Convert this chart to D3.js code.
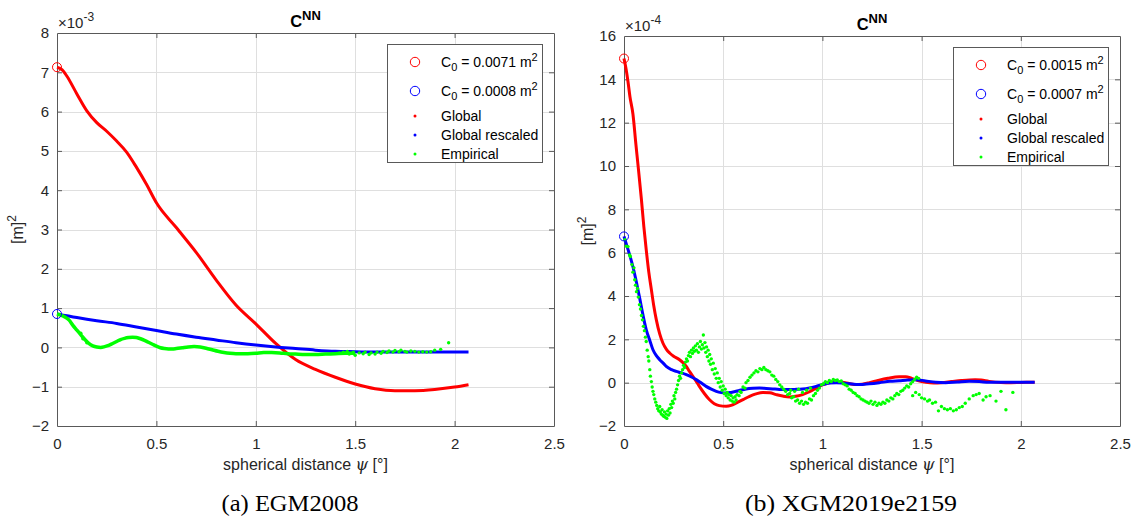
<!DOCTYPE html>
<html>
<head>
<meta charset="utf-8">
<script src="https://cdn.jsdelivr.net/npm/d3@7"></script>
<style>
body{margin:0;background:#fff;}
svg{font-family:Arial,"Liberation Sans",Helvetica,sans-serif;}
</style>
</head>
<body>
<svg id="chart" width="1137" height="518"></svg>
<script>
// ---- data ----
var xTicks = [0, 0.5, 1, 1.5, 2, 2.5];
var yTicksA = [-2, -1, 0, 1, 2, 3, 4, 5, 6, 7, 8];
var yTicksB = [-2, 0, 2, 4, 6, 8, 10, 12, 14, 16];
var exponents = ["-3", "-4"];
var captions = ["(a) EGM2008", "(b) XGM2019e2159"];
var seriesNames = ["Global", "Global rescaled", "Empirical"];
var c0LabelsA = ["0.0071", "0.0008"];
var c0LabelsB = ["0.0015", "0.0007"];
var c0A = [7.13, 0.85];
var c0B = [14.96, 6.75];

// EGM2008, values x 1e-3
var globalA = [[0,7.13],[0.025,7.07],[0.05,6.9],[0.1,6.45],[0.15,6.02],[0.2,5.72],[0.25,5.5],[0.3,5.25],
    [0.35,4.97],[0.4,4.58],[0.45,4.15],[0.5,3.68],[0.6,3.05],[0.7,2.42],[0.8,1.72],[0.9,1.08],[1.0,0.6],
    [1.1,0.1],[1.2,-0.31],[1.3,-0.56],[1.4,-0.76],[1.5,-0.93],[1.6,-1.05],[1.7,-1.1],[1.8,-1.1],
    [1.9,-1.07],[2.0,-1.01],[2.07,-0.95]];
var rescaledA = [[0,0.85],[0.1,0.76],[0.2,0.68],[0.3,0.61],[0.4,0.52],[0.5,0.43],[0.6,0.34],[0.7,0.26],
    [0.8,0.19],[0.9,0.12],[1.0,0.06],[1.1,0.01],[1.2,-0.03],[1.3,-0.07],[1.4,-0.1],[1.5,-0.11],
    [1.6,-0.12],[1.8,-0.12],[2.07,-0.12]];
var empiricalTrackA = [[0,0.85],[0.03,0.8],[0.06,0.7],[0.08,0.56],[0.1,0.44],[0.12,0.32],[0.14,0.2],
    [0.16,0.1],[0.18,0.04],[0.2,0.01],[0.22,0.0],[0.24,0.02],[0.26,0.05],[0.28,0.1],[0.3,0.15],[0.32,0.2],
    [0.34,0.23],[0.36,0.25],[0.38,0.26],[0.4,0.25],[0.42,0.22],[0.44,0.18],[0.46,0.13],[0.48,0.08],
    [0.5,0.03],[0.52,-0.01],[0.54,-0.03],[0.56,-0.04],[0.58,-0.04],[0.6,-0.03],[0.63,-0.01],[0.66,0.01],
    [0.69,0.02],[0.72,0.01],[0.75,-0.02],[0.78,-0.06],[0.81,-0.1],[0.84,-0.13],[0.87,-0.15],[0.9,-0.16],
    [0.93,-0.16],[0.96,-0.16],[1.0,-0.15],[1.04,-0.13],[1.08,-0.13],[1.12,-0.14],[1.16,-0.16],[1.2,-0.17],
    [1.25,-0.18],[1.3,-0.18],[1.35,-0.17],[1.4,-0.16],[1.45,-0.15],[1.5,-0.15]];
var empiricalDotsA = [[0.12,0.36],[0.13,0.22],[0.15,0.12],[1.42,-0.15],[1.44,-0.12],[1.46,-0.1],[1.47,-0.17],
    [1.49,-0.12],[1.5,-0.2],[1.52,-0.14],[1.54,-0.16],[1.55,-0.12],[1.57,-0.18],[1.58,-0.14],[1.6,-0.17],
    [1.61,-0.12],[1.63,-0.15],[1.64,-0.1],[1.66,-0.13],[1.67,-0.09],[1.69,-0.12],[1.7,-0.08],[1.72,-0.11],
    [1.73,-0.07],[1.75,-0.1],[1.76,-0.12],[1.78,-0.09],[1.8,-0.1],[1.82,-0.12],[1.84,-0.11],[1.86,-0.12],
    [1.88,-0.11],[1.9,-0.07],[1.93,-0.05],[1.97,0.12]];

// XGM2019e2159, values x 1e-4
var globalB = [[0,14.96],[0.01,14.5],[0.02,13.9],[0.03,13.2],[0.045,12.4],[0.06,11.0],[0.07,10.1],
    [0.088,8.43],[0.1,7.2],[0.112,6.14],[0.125,5.1],[0.138,4.29],[0.15,3.55],[0.163,2.9],[0.18,2.25],
    [0.196,1.83],[0.213,1.55],[0.23,1.37],[0.25,1.22],[0.28,1.06],[0.3,0.9],[0.314,0.75],[0.33,0.52],
    [0.347,0.29],[0.365,0.05],[0.38,-0.17],[0.405,-0.5],[0.43,-0.78],[0.455,-0.97],[0.48,-1.06],
    [0.515,-1.09],[0.54,-1.05],[0.565,-0.94],[0.6,-0.78],[0.633,-0.63],[0.665,-0.52],[0.7,-0.45],
    [0.735,-0.47],[0.767,-0.55],[0.8,-0.62],[0.834,-0.66],[0.865,-0.63],[0.9,-0.55],[0.935,-0.42],
    [0.968,-0.25],[1.0,-0.1],[1.035,0],[1.07,0.04],[1.1,0.02],[1.135,-0.04],[1.17,-0.09],[1.2,-0.07],
    [1.237,0],[1.28,0.1],[1.33,0.2],[1.387,0.27],[1.42,0.27],[1.45,0.2],[1.49,0.08],[1.522,0.02],
    [1.56,-0.01],[1.6,0],[1.65,0.05],[1.7,0.1],[1.77,0.14],[1.8,0.12],[1.84,0.06],[1.9,0.01],[1.95,0],
    [2.0,0.01],[2.07,0.02]];
var rescaledB = [[0,6.75],[0.015,6.3],[0.03,5.85],[0.045,5.35],[0.06,4.75],[0.079,3.9],[0.095,3.15],
    [0.112,2.45],[0.13,1.95],[0.146,1.52],[0.163,1.25],[0.18,1.06],[0.2,0.88],[0.213,0.75],[0.24,0.6],
    [0.263,0.52],[0.29,0.45],[0.314,0.37],[0.34,0.26],[0.364,0.14],[0.39,-0.02],[0.414,-0.17],[0.44,-0.3],
    [0.465,-0.4],[0.49,-0.46],[0.515,-0.48],[0.54,-0.45],[0.565,-0.4],[0.59,-0.34],[0.616,-0.29],
    [0.65,-0.26],[0.683,-0.25],[0.717,-0.27],[0.75,-0.29],[0.783,-0.31],[0.817,-0.32],[0.86,-0.31],
    [0.9,-0.29],[0.935,-0.24],[0.968,-0.17],[1.0,-0.09],[1.035,-0.02],[1.07,0],[1.1,-0.01],[1.136,-0.05],
    [1.186,-0.09],[1.237,-0.05],[1.287,0],[1.34,0.06],[1.387,0.09],[1.43,0.12],[1.47,0.14],[1.52,0.08],
    [1.572,0.02],[1.62,0],[1.68,0.03],[1.74,0.06],[1.79,0.05],[1.84,0.02],[1.95,0.02],[2.07,0.02]];
var empiricalB = [[0.005,6.6],[0.012,6.3],[0.02,6.28],[0.028,5.9],[0.032,5.82],[0.04,5.45],[0.045,5.1],
    [0.05,5.3],[0.054,4.75],[0.058,4.5],[0.063,4.2],[0.068,4.35],[0.072,3.95],[0.078,3.6],[0.083,3.4],
    [0.088,3.1],[0.093,2.9],[0.098,2.6],[0.103,2.4],[0.108,2.1],[0.112,1.9],[0.117,1.5],[0.122,1.2],
    [0.125,1.0],[0.13,0.6],[0.133,0.3],[0.138,0.05],[0.142,-0.2],[0.146,-0.4],[0.15,-0.55],[0.155,-0.75],
    [0.16,-0.9],[0.165,-1.05],[0.17,-1.2],[0.175,-1.3],[0.18,-1.1],[0.183,-1.35],[0.188,-1.45],[0.192,-1.25],
    [0.196,-1.5],[0.2,-1.55],[0.204,-1.35],[0.208,-1.6],[0.212,-1.45],[0.216,-1.65],[0.22,-1.3],[0.224,-1.5],
    [0.228,-1.2],[0.232,-1.4],[0.236,-1.0],[0.24,-1.15],[0.244,-0.85],[0.248,-0.95],[0.252,-0.6],
    [0.256,-0.75],[0.26,-0.45],[0.265,-0.3],[0.27,-0.1],[0.275,0.1],[0.28,0.3],[0.285,0.2],[0.29,0.45],
    [0.295,0.6],[0.3,0.8],[0.305,0.7],[0.31,0.95],[0.315,1.1],[0.32,1.0],[0.325,1.25],[0.33,1.4],
    [0.335,1.2],[0.34,1.5],[0.345,1.35],[0.35,1.6],[0.355,1.45],[0.36,1.7],[0.365,1.5],[0.37,1.8],
    [0.375,1.4],[0.38,1.65],[0.385,1.9],[0.39,1.55],[0.395,1.75],[0.4,2.2],[0.403,1.6],[0.408,1.85],
    [0.412,1.4],[0.416,1.65],[0.42,1.2],[0.424,1.5],[0.428,1.0],[0.432,1.3],[0.436,0.85],[0.44,1.1],
    [0.445,0.6],[0.45,0.9],[0.455,0.4],[0.46,0.65],[0.465,0.2],[0.47,0.45],[0.475,0.0],[0.48,0.2],
    [0.485,-0.2],[0.49,0.05],[0.495,-0.35],[0.5,-0.15],[0.505,-0.5],[0.51,-0.3],[0.515,-0.6],[0.52,-0.45],
    [0.525,-0.7],[0.53,-0.55],[0.535,-0.8],[0.54,-0.6],[0.545,-0.85],[0.55,-0.7],[0.555,-0.9],[0.56,-0.65],
    [0.565,-0.8],[0.57,-0.55],[0.58,-0.6],[0.585,-0.4],[0.59,-0.45],[0.6,-0.2],[0.61,-0.25],[0.615,0.0],
    [0.625,0.1],[0.635,0.25],[0.645,0.35],[0.655,0.45],[0.665,0.55],[0.675,0.5],[0.685,0.65],[0.695,0.6],
    [0.705,0.7],[0.715,0.6],[0.725,0.55],[0.735,0.5],[0.745,0.35],[0.755,0.3],[0.765,0.15],[0.775,0.05],
    [0.785,-0.1],[0.795,-0.2],[0.805,-0.3],[0.815,-0.4],[0.825,-0.55],[0.835,-0.5],[0.845,-0.7],
    [0.855,-0.65],[0.865,-0.85],[0.875,-0.8],[0.885,-0.95],[0.895,-0.85],[0.905,-1.0],[0.915,-0.9],
    [0.925,-0.95],[0.935,-0.75],[0.945,-0.8],[0.955,-0.6],[0.965,-0.5],[0.975,-0.35],[0.985,-0.25],
    [0.995,-0.1],[1.005,-0.05],[1.015,0.05],[1.025,0.0],[1.035,0.1],[1.045,0.05],[1.055,0.15],[1.065,0.1],
    [1.075,0.12],[1.085,0.05],[1.095,0.08],[1.105,-0.05],[1.115,-0.1],[1.125,-0.15],[1.135,-0.3],
    [1.145,-0.35],[1.155,-0.45],[1.165,-0.5],[1.175,-0.6],[1.185,-0.65],[1.195,-0.75],[1.205,-0.8],
    [1.215,-0.85],[1.225,-0.9],[1.235,-0.95],[1.245,-0.85],[1.255,-1.0],[1.265,-0.9],[1.275,-1.05],
    [1.285,-0.95],[1.295,-1.0],[1.305,-0.9],[1.315,-0.95],[1.325,-0.8],[1.335,-0.85],[1.345,-0.7],
    [1.355,-0.75],[1.365,-0.6],[1.375,-0.5],[1.385,-0.55],[1.395,-0.4],[1.405,-0.35],[1.415,-0.25],
    [1.425,-0.15],[1.435,-0.2],[1.445,-0.05],[1.455,0.05],[1.465,0.15],[1.475,0.25],[1.485,0.2],
    [0.84,-0.35],[0.86,-0.4],[0.88,-0.3],[0.9,-0.45],[0.92,-0.35],[0.94,-0.25],
    [1.455,-0.6],[1.47,-0.45],[1.488,-0.55],[1.5,-0.7],[1.515,-0.75],[1.53,-0.85],[1.54,-0.8],[1.555,-0.95],
    [1.57,-0.9],[1.585,-1.3],[1.6,-1.1],[1.615,-1.2],[1.63,-1.25],[1.645,-1.2],[1.66,-1.3],[1.675,-1.25],
    [1.69,-1.15],[1.705,-1.1],[1.72,-0.95],[1.74,-0.75],[1.76,-0.6],[1.775,-0.55],[1.79,-0.5],[1.81,-0.8],
    [1.825,-0.65],[1.845,-0.6],[1.875,-0.85],[1.9,-0.4],[1.925,-1.25],[1.96,-0.45]];

var colors = ["#ff0000", "#0000ff", "#00ff00"];
var axisColor = "#595959",
    textColor = "#262626",
    gridColor = "#dfdfdf";

var svg = d3.select("#chart");

function drawPanel(p){
    var x = d3.scaleLinear().domain([0, 2.5]).range([p.left, p.right]);
    var y = d3.scaleLinear().domain([p.yTicks[0], p.yTicks[p.yTicks.length-1]]).range([p.bottom, p.top]);
    var g = svg.append("g");

    // grid
    g.selectAll(".gx").data(xTicks.slice(1, -1)).enter()
        .append("line")
        .attr("x1", function(d){return Math.round(x(d)) + 0.5})
        .attr("x2", function(d){return Math.round(x(d)) + 0.5})
        .attr("y1", p.top).attr("y2", p.bottom)
        .style("stroke", gridColor);
    g.selectAll(".gy").data(p.yTicks.slice(1, -1)).enter()
        .append("line")
        .attr("y1", function(d){return Math.round(y(d)) + 0.5})
        .attr("y2", function(d){return Math.round(y(d)) + 0.5})
        .attr("x1", p.left).attr("x2", p.right)
        .style("stroke", gridColor);

    // axes, ticks inward like matlab
    var axB = g.append("g").attr("transform", "translate(0," + p.bottom + ")")
        .call(d3.axisBottom(x).tickValues(xTicks).tickSizeInner(-5).tickSizeOuter(0).tickPadding(12)
            .tickFormat(function(d){return d3.format("")(d)}));
    var axT = g.append("g").attr("transform", "translate(0," + p.top + ")")
        .call(d3.axisTop(x).tickValues(xTicks).tickSizeInner(-5).tickSizeOuter(0).tickFormat(""));
    var axL = g.append("g").attr("transform", "translate(" + p.left + ",0)")
        .call(d3.axisLeft(y).tickValues(p.yTicks).tickSizeInner(-5).tickSizeOuter(0).tickPadding(8));
    var axR = g.append("g").attr("transform", "translate(" + p.right + ",0)")
        .call(d3.axisRight(y).tickValues(p.yTicks).tickSizeInner(-5).tickSizeOuter(0).tickFormat(""));

    [axB, axT, axL, axR].forEach(function(a){
        a.attr("font-family", null).attr("font-size", null);
        a.select(".domain").style("stroke", axisColor);
        a.selectAll(".tick line").style("stroke", axisColor);
        a.selectAll(".tick text").style("fill", textColor).style("font-size", "15px");
    });
    axB.selectAll(".tick line").filter(function(d, i){return i == 0 || i == xTicks.length-1}).remove();
    axT.selectAll(".tick line").filter(function(d, i){return i == 0 || i == xTicks.length-1}).remove();
    axL.selectAll(".tick line").filter(function(d, i){return i == 0 || i == p.yTicks.length-1}).remove();
    axR.selectAll(".tick line").filter(function(d, i){return i == 0 || i == p.yTicks.length-1}).remove();

    // series
    var line = d3.line()
        .x(function(d){return x(d[0])})
        .y(function(d){return y(d[1])})
        .curve(d3.curveMonotoneX);

    g.append("path").datum(p.global)
        .attr("d", line).attr("fill", "none")
        .style("stroke", colors[0]).style("stroke-width", 3).style("stroke-linejoin", "round");
    g.append("path").datum(p.rescaled)
        .attr("d", line).attr("fill", "none")
        .style("stroke", colors[1]).style("stroke-width", 3).style("stroke-linejoin", "round");
    if(p.empTrack){
        g.append("path").datum(p.empTrack)
            .attr("d", line).attr("fill", "none")
            .style("stroke", colors[2]).style("stroke-width", 3.5).style("stroke-linejoin", "round");
    }
    g.selectAll(".emp").data(p.empDots).enter()
        .append("circle")
        .attr("cx", function(d){return x(d[0])})
        .attr("cy", function(d){return y(d[1])})
        .attr("r", 1.7)
        .style("fill", colors[2]);

    // C0 markers
    g.selectAll(".c0").data(p.c0).enter()
        .append("circle")
        .attr("cx", x(0))
        .attr("cy", function(d){return y(d)})
        .attr("r", 4.5)
        .style("fill", "none")
        .style("stroke", function(d, i){return colors[i]});

    // title
    var cx = (p.left + p.right) / 2;
    var title = g.append("text").attr("x", cx).attr("y", p.top - 6)
        .attr("text-anchor", "middle").style("font-weight", "bold").style("fill", "#000");
    title.append("tspan").style("font-size", "16.5px").text("C");
    title.append("tspan").style("font-size", "13px").attr("dy", -7).text("NN");

    // exponent
    var ex = g.append("text").attr("x", p.left + 1).attr("y", p.top - 5).style("fill", textColor);
    ex.append("tspan").style("font-size", "15px").text("\u00d710");
    ex.append("tspan").style("font-size", "12px").attr("dy", -7).text(p.exponent);

    // labels
    var xl = g.append("text").attr("x", cx).attr("y", p.bottom + 44)
        .attr("text-anchor", "middle").style("font-size", "16px").style("fill", textColor);
    xl.append("tspan").text("spherical distance ");
    xl.append("tspan").style("font-family", "'DejaVu Serif', serif").style("font-style", "italic").text("\u03c8");
    xl.append("tspan").text(" [\u00b0]");

    var yl = g.append("text")
        .attr("transform", "translate(" + p.yLabelX + "," + ((p.top + p.bottom) / 2) + ") rotate(-90)")
        .attr("text-anchor", "middle").style("font-size", "16px").style("fill", textColor);
    yl.append("tspan").text("[m]");
    yl.append("tspan").style("font-size", "12px").attr("dy", -7).text("2");

    g.append("text").attr("x", p.captionX).attr("y", 511)
        .attr("text-anchor", "middle")
        .attr("textLength", p.captionW).attr("lengthAdjust", "spacingAndGlyphs")
        .style("font-family", "'Liberation Serif', 'Times New Roman', serif")
        .style("font-size", "24px").style("fill", "#000")
        .text(p.caption);

    // legend
    var lw = 155, lh = 118;
    var lx = p.right - 12 - lw, ly = p.top + 11;
    var lg = g.append("g").attr("transform", "translate(" + lx + "," + ly + ")");
    lg.append("rect").attr("x", 0.5).attr("y", 0.5).attr("width", lw).attr("height", lh)
        .style("fill", "#fff").style("stroke", axisColor);
    var rows = [18, 47];
    p.c0Labels.forEach(function(lab, i){
        lg.append("circle").attr("cx", 28).attr("cy", rows[i]).attr("r", 4.7)
            .style("fill", "none").style("stroke", colors[i]);
        var t = lg.append("text").attr("x", 54).attr("y", rows[i] + 5)
            .style("font-size", "14px").style("fill", "#000");
        t.append("tspan").text("C");
        t.append("tspan").style("font-size", "11px").attr("dy", 4).text("0");
        t.append("tspan").attr("dy", -4).text(" = " + lab + " m");
        t.append("tspan").style("font-size", "11px").attr("dy", -6).text("2");
    });
    var dotRows = [72, 91, 110];
    seriesNames.forEach(function(name, i){
        lg.append("circle").attr("cx", 28).attr("cy", dotRows[i]).attr("r", 1.5).style("fill", colors[i]);
        lg.append("text").attr("x", 54).attr("y", dotRows[i] + 5)
            .style("font-size", "14px").style("fill", "#000").text(name);
    });
}

drawPanel({
    left: 57, right: 554, top: 33, bottom: 426,
    yTicks: yTicksA, exponent: exponents[0],
    global: globalA, rescaled: rescaledA, empTrack: empiricalTrackA, empDots: empiricalDotsA,
    c0: c0A, c0Labels: c0LabelsA, caption: captions[0], captionX: 290, captionW: 137, yLabelX: 23
});
drawPanel({
    left: 624, right: 1120, top: 36, bottom: 426,
    yTicks: yTicksB, exponent: exponents[1],
    global: globalB, rescaled: rescaledB, empTrack: null, empDots: empiricalB,
    c0: c0B, c0Labels: c0LabelsB, caption: captions[1], captionX: 851, captionW: 212, yLabelX: 593
});
</script>
</body>
</html>
